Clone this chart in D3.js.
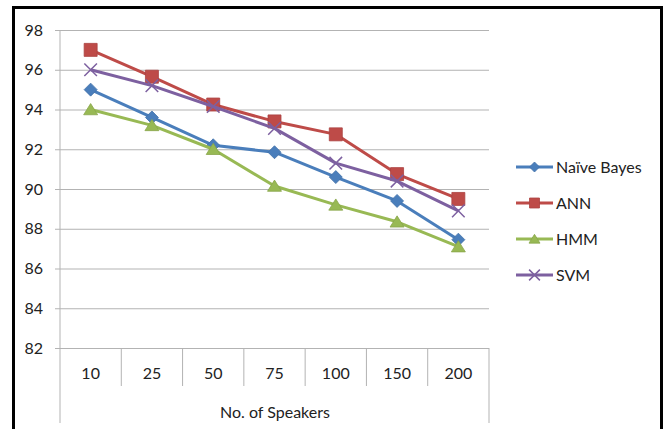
<!DOCTYPE html>
<html>
<head>
<meta charset="utf-8">
<script src="https://cdn.jsdelivr.net/npm/d3@7"></script>
<style>
  body { margin: 0; background: #fff; }
  svg text { font-family: Lato, Carlito, Calibri, sans-serif; font-size: 16px; fill: #222; }
</style>
</head>
<body>
<svg id="chart" width="666" height="429"></svg>
<script>
const categories = ['10', '25', '50', '75', '100', '150', '200']
const yTicks = [82, 84, 86, 88, 90, 92, 94, 96, 98]
const naiveBayes = [95, 93.6, 92.2, 91.85, 90.6, 89.4, 87.45]
const ann = [97, 95.65, 94.25, 93.4, 92.75, 90.75, 89.5]
const hmm = [94, 93.2, 92, 90.15, 89.2, 88.35, 87.1]
const svm = [96, 95.2, 94.15, 93.05, 91.3, 90.4, 88.9]

const series = [
  { name: 'Naïve Bayes', values: naiveBayes, color: '#4a7ebb', marker: 'diamond' },
  { name: 'ANN', values: ann, color: '#be4b48', marker: 'square' },
  { name: 'HMM', values: hmm, color: '#98b954', marker: 'triangle' },
  { name: 'SVM', values: svm, color: '#7d60a0', marker: 'cross' }
]

const PLOT = { left: 60, right: 489, top: 30, bottom: 348 }

const svg = d3.select('#chart')

// outer frame (bottom edge is cut off in the picture)
svg.append('path')
  .attr('d', 'M13.5,440 V7.5 H661.5 V440')
  .attr('fill', 'none')
  .attr('stroke', '#000')
  .attr('stroke-width', 3)

const x = d3.scaleBand().domain(categories).range([PLOT.left, PLOT.right])
const y = d3.scaleLinear().domain([82, 98]).range([PLOT.bottom, PLOT.top])

// gridlines
svg.append('g')
  .attr('transform', `translate(${PLOT.left},0)`)
  .call(d3.axisLeft(y).tickValues(yTicks).tickSize(-(PLOT.right - PLOT.left)).tickFormat(''))
  .call(g => g.select('.domain').remove())
  .selectAll('line').attr('stroke', '#b3b3b3')

// y axis ticks + labels
svg.append('g')
  .attr('transform', `translate(${PLOT.left},0)`)
  .call(d3.axisLeft(y).tickValues(yTicks).tickSize(5).tickPadding(12).tickSizeOuter(0))
  .call(g => g.select('.domain').remove())
  .call(g => g.selectAll('line').attr('stroke', '#b3b3b3'))
  .call(g => g.selectAll('text').attr('font-size', 16).attr('fill', '#222'))

// left axis line (runs down through the category table)
svg.append('line')
  .attr('x1', PLOT.left).attr('x2', PLOT.left)
  .attr('y1', PLOT.top).attr('y2', 423)
  .attr('stroke', '#b3b3b3')

// right edge of the category table
svg.append('line')
  .attr('x1', PLOT.right).attr('x2', PLOT.right)
  .attr('y1', PLOT.bottom).attr('y2', 423)
  .attr('stroke', '#b3b3b3')

// category separators
svg.append('g').selectAll('line')
  .data(categories.slice(1))
  .enter().append('line')
  .attr('x1', d => x(d)).attr('x2', d => x(d))
  .attr('y1', PLOT.bottom).attr('y2', 386)
  .attr('stroke', '#b3b3b3')

svg.append('g').selectAll('text')
  .data(categories)
  .enter().append('text')
  .attr('x', d => x(d) + x.bandwidth() / 2)
  .attr('y', 379)
  .attr('text-anchor', 'middle')
  .text(d => d)

svg.append('text')
  .attr('x', 275)
  .attr('y', 418)
  .attr('text-anchor', 'middle')
  .text('No. of Speakers')

const line = d3.line()
  .x((d, i) => x(categories[i]) + x.bandwidth() / 2)
  .y(d => y(d))

function drawMarker(sel, type, color, size) {
  const s = size / 2
  let d
  if (type === 'cross') {
    const c = size * 0.45
    sel.append('path')
      .attr('d', `M${-c},${-c}L${c},${c}M${-c},${c}L${c},${-c}`)
      .attr('stroke', color).attr('stroke-width', 1.5).attr('fill', 'none')
    return
  }
  if (type === 'diamond') d = `M0,${-s}L${s},0L0,${s}L${-s},0Z`
  if (type === 'square') d = `M${-s},${-s}H${s}V${s}H${-s}Z`
  if (type === 'triangle') d = `M0,${-s * 0.85}L${s},${s * 0.75}H${-s}Z`
  sel.append('path')
    .attr('d', d)
    .attr('fill', color)
    .attr('stroke', d3.color(color).darker(0.3))
    .attr('stroke-width', 0.8)
}

const markerSize = { diamond: 13, square: 13, triangle: 14, cross: 14 }
const legendMarkerSize = { diamond: 10, square: 10, triangle: 11, cross: 12 }

series.forEach(s => {
  svg.append('path')
    .datum(s.values)
    .attr('d', line)
    .attr('fill', 'none')
    .attr('stroke', s.color)
    .attr('stroke-width', 3)
    .attr('stroke-linejoin', 'round')

  svg.append('g').selectAll('g')
    .data(s.values)
    .enter().append('g')
    .attr('transform', (d, i) => `translate(${x(categories[i]) + x.bandwidth() / 2},${y(d)})`)
    .each(function () { drawMarker(d3.select(this), s.marker, s.color, markerSize[s.marker]) })
})

// legend
const legend = svg.append('g')
  .selectAll('g')
  .data(series)
  .enter().append('g')
  .attr('transform', (d, i) => `translate(516,${167 + i * 36})`)

legend.append('line')
  .attr('x1', 0).attr('x2', 37)
  .attr('stroke', d => d.color)
  .attr('stroke-width', 3)

legend.each(function (d) {
  const g = d3.select(this).append('g').attr('transform', 'translate(18.5,0)')
  drawMarker(g, d.marker, d.color, legendMarkerSize[d.marker])
})

legend.append('text')
  .attr('x', 40)
  .attr('dy', '0.35em')
  .text(d => d.name)
</script>
</body>
</html>
